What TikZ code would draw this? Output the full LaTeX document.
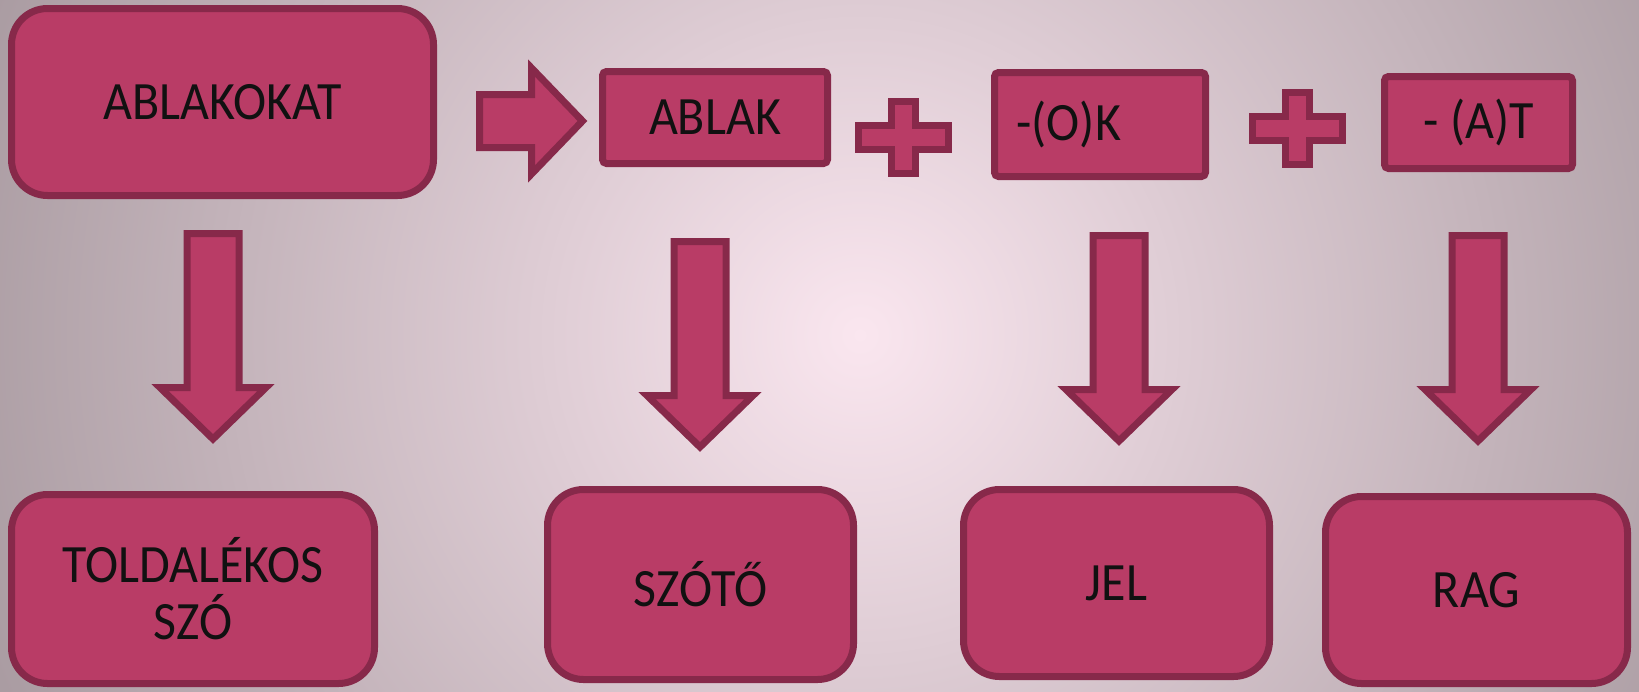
\documentclass[tikz,border=0pt]{standalone}
\usepackage{fontspec}
\setmainfont[FakeStretch=0.925]{Carlito}
\definecolor{boxfill}{HTML}{B93C66}
\definecolor{boxline}{HTML}{87294A}
\definecolor{bgin}{HTML}{FAE6EF}
\definecolor{bgout}{HTML}{A89AA0}
\definecolor{ink}{HTML}{111111}

\tikzset{
	blk/.style = {fill=boxfill, draw=boxline, line width=3.5pt},
	word/.style = {blk, rounded corners=18pt, text=ink, align=center, inner sep=0pt,
		font=\fontsize{27}{28.5}\selectfont},
	piece/.style = {blk, rounded corners=2pt, text=ink, inner sep=0pt,
		font=\fontsize{27}{28.5}\selectfont},
}

% block arrow pointing down: #1 = x of middle, #2 = y of top
\newcommand{\downblock}[2]{
	\draw[blk] (#1-26,#2) -- (#1+26,#2) -- (#1+26,#2+154) -- (#1+53,#2+154)
		-- (#1,#2+205.5) -- (#1-53,#2+154) -- (#1-26,#2+154) -- cycle;
}
% plus sign: #1,#2 = centre
\newcommand{\plusblock}[2]{
	\draw[blk] (#1-12,#2-36) -- (#1+12,#2-36) -- (#1+12,#2-12) -- (#1+45,#2-12)
		-- (#1+45,#2+12) -- (#1+12,#2+12) -- (#1+12,#2+36) -- (#1-12,#2+36)
		-- (#1-12,#2+12) -- (#1-45,#2+12) -- (#1-45,#2-12) -- (#1-12,#2-12) -- cycle;
}

\begin{document}
\begin{tikzpicture}[x=0.5pt, y=-0.5pt]
	\useasboundingbox (0,0) rectangle (1639,691);
	\begin{scope}
		\clip (0,0) rectangle (1639,691);
		\fill[bgout] (0,0) rectangle (1639,691);
		\shade[inner color=bgin, outer color=bgout] (860,335) circle (475pt);
	\end{scope}

	% top row
	\node[word, minimum width=211pt, minimum height=93.5pt] (whole) at (222.5,102) {ABLAKOKAT};
	\node[piece, minimum width=112.5pt, minimum height=46pt] (stem) at (715,117.5) {ABLAK};
	\node[piece, minimum width=105.5pt, minimum height=52pt, inner xsep=11pt, text width=83.5pt, align=left] (mark) at (1100,124.5) {-(O)K};
	\node[piece, minimum width=94pt, minimum height=46pt] (ending) at (1478.5,122.5) {- (A)T};

	\draw[blk] (479.5,94.5) -- (531.5,94.5) -- (531.5,68) -- (582.5,121)
		-- (531.5,174) -- (531.5,147.5) -- (479.5,147.5) -- cycle;
	\plusblock{903.5}{137}
	\plusblock{1297}{128.5}

	% arrows down
	\downblock{213}{233.5}
	\downblock{700}{241.5}
	\downblock{1119}{235.5}
	\downblock{1478}{235.5}

	% bottom row
	\node[word, minimum width=181.5pt, minimum height=94.5pt] (suffixed) at (193,589) {TOLDALÉKOS\\SZÓ};
	\node[word, minimum width=153pt, minimum height=95pt] (root) at (700.5,584.5) {SZÓTŐ};
	\node[word, minimum width=153pt, minimum height=93.5pt] (sign) at (1116.5,583) {JEL};
	\node[word, minimum width=151pt, minimum height=93.5pt] (case) at (1476.5,590) {RAG};
\end{tikzpicture}
\end{document}
